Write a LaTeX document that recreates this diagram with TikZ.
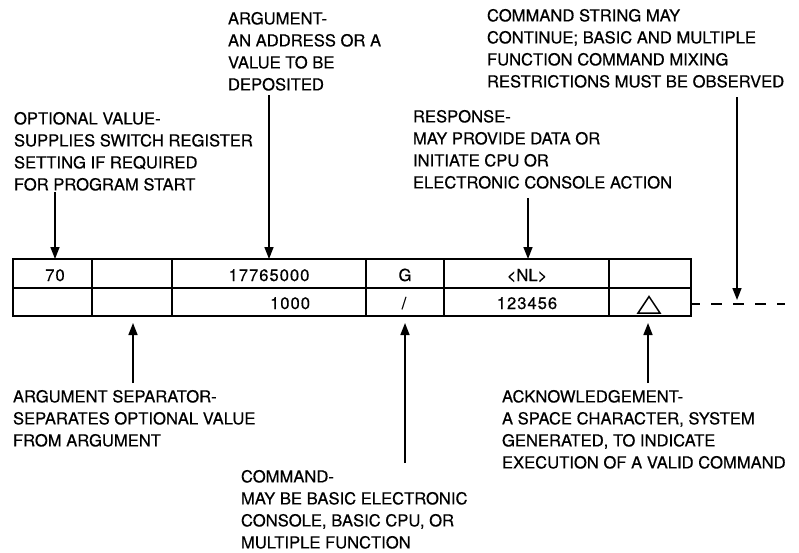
\documentclass[tikz,border=0pt]{standalone}
\usepackage{fontspec}
\setmainfont[FakeBold=0.5]{TeX Gyre Heros}
\newfontfamily\cellfont[LetterSpace=6,FakeBold=0.5]{TeX Gyre Heros}
\usetikzlibrary{arrows.meta}
\begin{document}
\begin{tikzpicture}[x=1pt,y=-1pt,
  lbl/.style={anchor=north west, inner sep=0pt, outer sep=0pt, align=left,
              font=\fontsize{16.6}{22}\selectfont},
  cell/.style={inner sep=0pt, outer sep=0pt, anchor=base,
              font=\fontsize{16.6}{20}\selectfont\cellfont},
  plaincell/.style={inner sep=0pt, outer sep=0pt, anchor=base,
              font=\fontsize{16.6}{20}\selectfont},
  ptr/.style={line width=1.5pt, -{Triangle[length=12pt,width=9pt]}},
  outer/.style={line width=2.4pt},
  inner/.style={line width=1.6pt},
  dashline/.style={line width=1.5pt, dash pattern=on 11pt off 11pt, dash phase=2pt}
]
\useasboundingbox (0,0) rectangle (799,552);

% ---- labels above ----
\node[lbl] (argl) at (228,12) {ARGUMENT-\\AN ADDRESS OR A\\VALUE TO BE\\DEPOSITED};
\node[lbl] (optl) at (14,112) {OPTIONAL VALUE-\\SUPPLIES SWITCH REGISTER\\SETTING IF REQUIRED\\FOR PROGRAM START};
\node[lbl] (strl) at (487,9) {COMMAND STRING MAY\\CONTINUE; BASIC AND MULTIPLE\\FUNCTION COMMAND MIXING\\RESTRICTIONS MUST BE OBSERVED};
\node[lbl] (resl) at (413,110) {RESPONSE-\\MAY PROVIDE DATA OR\\INITIATE CPU OR\\ELECTRONIC CONSOLE ACTION};

% ---- labels below ----
\node[lbl] (sepl) at (13,390) {ARGUMENT SEPARATOR-\\SEPARATES OPTIONAL VALUE\\FROM ARGUMENT};
\node[lbl] (cmdl) at (241,470) {COMMAND-\\MAY BE BASIC ELECTRONIC\\CONSOLE, BASIC CPU, OR\\MULTIPLE FUNCTION};
\node[lbl] (ackl) at (502,390) {ACKNOWLEDGEMENT-\\A SPACE CHARACTER, SYSTEM\\GENERATED, TO INDICATE\\EXECUTION OF A VALID COMMAND};

% ---- table ----
\draw[outer] (13,259) rectangle (691,316);
\draw[inner] (13,288) -- (691,288);
\foreach \xx in {92,172,366,444,609}
  \draw[inner] (\xx,259) -- (\xx,316);

\node[cell] (c70) at (55,281) {70};
\node[cell] (cadr) at (269,281) {17765000};
\node[plaincell] (cg) at (405,281) {G};
\node[plaincell] (cnl) at (527,281) {<NL>};
\node[cell, anchor=base east] (cval) at (310,309) {1000};
\node[plaincell] (cslash) at (404,309) {/};
\node[cell] (cresp) at (527,309) {123456};
\draw[line width=1.5pt, line join=miter] (638,313) -- (649,296.5) -- (660,313) -- cycle;

% continuation
\coordinate (dashA) at (691,304);
\coordinate (dashB) at (785,304);
\draw[dashline] (dashA) -- (dashB);

% ---- pointer coordinates ----
\coordinate (optS) at (55,192);   \coordinate (optE) at (55,259);
\coordinate (argS) at (269,95);   \coordinate (argE) at (269,259);
\coordinate (resS) at (528,198);  \coordinate (resE) at (528,259);
\coordinate (strS) at (737,97);   \coordinate (strE) at (737,300);
\coordinate (sepS) at (133,383);  \coordinate (sepE) at (133,323);
\coordinate (cmdS) at (405,463);  \coordinate (cmdE) at (405,323);
\coordinate (ackS) at (648,383);  \coordinate (ackE) at (648,323);

\draw[ptr] (optS) -- (optE);
\draw[ptr] (argS) -- (argE);
\draw[ptr] (resS) -- (resE);
\draw[ptr] (strS) -- (strE);
\draw[ptr] (sepS) -- (sepE);
\draw[ptr] (cmdS) -- (cmdE);
\draw[ptr] (ackS) -- (ackE);
\end{tikzpicture}
\end{document}
